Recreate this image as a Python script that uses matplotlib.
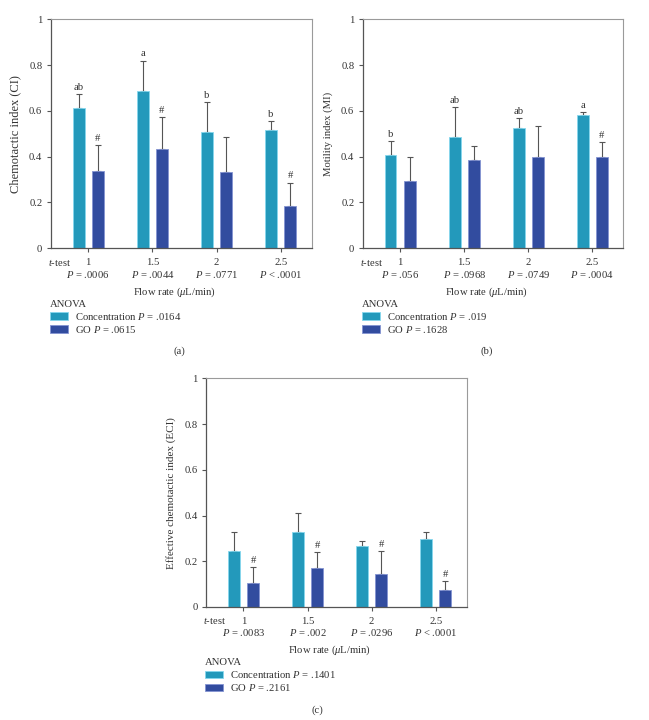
import numpy as np
import matplotlib
matplotlib.use("Agg")
import matplotlib.pyplot as plt
from matplotlib.patches import Patch
from matplotlib.transforms import blended_transform_factory

plt.rcParams['font.family'] = ['Liberation Serif', 'DejaVu Serif']
plt.rcParams['mathtext.fontset'] = 'custom'
plt.rcParams['mathtext.rm'] = 'Liberation Serif'
plt.rcParams['mathtext.it'] = 'Liberation Serif:italic'

flow_rates = ["1", "1.5", "2", "2.5"]

# Panel (a) Chemotactic index
ci_conc = [0.612, 0.689, 0.507, 0.517]
ci_conc_err = [0.061, 0.131, 0.131, 0.038]
ci_go = [0.339, 0.432, 0.332, 0.186]
ci_go_err = [0.112, 0.140, 0.153, 0.101]
ci_conc_marks = ["ab", "a", "b", "b"]
ci_go_marks = ["#", "#", "", "#"]
ci_ttest = ["= .0006", "= .0044", "= .0771", "< .0001"]
ci_anova = [".0164", ".0615"]

# Panel (b) Motility index
mi_conc = [0.406, 0.484, 0.526, 0.580]
mi_conc_err = [0.061, 0.133, 0.041, 0.017]
mi_go = [0.294, 0.384, 0.400, 0.400]
mi_go_err = [0.103, 0.062, 0.133, 0.065]
mi_conc_marks = ["b", "ab", "ab", "a"]
mi_go_marks = ["", "", "", "#"]
mi_ttest = ["= .056", "= .0968", "= .0749", "= .0004"]
mi_anova = [".019", ".1628"]

# Panel (c) Effective chemotactic index
eci_conc = [0.247, 0.330, 0.266, 0.298]
eci_conc_err = [0.081, 0.083, 0.024, 0.031]
eci_go = [0.106, 0.169, 0.144, 0.076]
eci_go_err = [0.069, 0.071, 0.102, 0.038]
eci_conc_marks = ["", "", "", ""]
eci_go_marks = ["#", "#", "#", "#"]
eci_ttest = ["= .0083", "= .002", "= .0296", "< .0001"]
eci_anova = [".1401", ".2161"]

TEAL = '#2399bb'
TEAL_EDGE = '#86d8ee'
BLUE = '#324c9f'
BLUE_EDGE = '#8494d2'
FS = 7.7
TXT = '#333333'

W, H = 649, 720
fig = plt.figure(figsize=(W / 100, H / 100), dpi=100)


def px_axes(left, top, right, bottom):
    return fig.add_axes([left / W, 1 - bottom / H, (right - left) / W, (bottom - top) / H])


def panel(ax, conc, conc_err, go, go_err, cmarks, gmarks, ttest, anova, ylabel, ylfs,
          caption, cap_xy):
    x = np.arange(len(flow_rates))
    off = 0.15
    bw = 0.185
    ax.bar(x - off, conc, bw, color=TEAL, edgecolor=TEAL_EDGE, linewidth=0.6, zorder=2)
    ax.bar(x + off, go, bw, color=BLUE, edgecolor=BLUE_EDGE, linewidth=0.6, zorder=2)
    z = np.zeros(len(x))
    ax.errorbar(x - off, conc, yerr=[z, conc_err], fmt='none', ecolor='#555555',
                elinewidth=0.8, capsize=2, capthick=0.8, zorder=1)
    ax.errorbar(x + off, go, yerr=[z, go_err], fmt='none', ecolor='#555555',
                elinewidth=0.8, capsize=2, capthick=0.8, zorder=1)
    for xi, v, e, m in zip(x - off, conc, conc_err, cmarks):
        if m:
            ax.annotate(m, (xi, v + e), xytext=(0, 1.5), textcoords='offset points',
                        ha='center', va='bottom', fontsize=FS, color=TXT)
    for xi, v, e, m in zip(x + off, go, go_err, gmarks):
        if m:
            ax.annotate(m, (xi, v + e), xytext=(0, 1.5), textcoords='offset points',
                        ha='center', va='bottom', fontsize=FS, color=TXT)
    ax.set_xlim(-0.585, 3.484)
    ax.set_ylim(0, 1)
    ax.set_yticks([0, 0.2, 0.4, 0.6, 0.8, 1])
    ax.set_yticklabels(["0", "0.2", "0.4", "0.6", "0.8", "1"])
    ax.set_xticks(x)
    ax.set_xticklabels(flow_rates)
    ax.tick_params(axis='both', labelsize=FS, labelcolor=TXT, color='#555555',
                   length=3, width=0.8, direction='out')
    ax.tick_params(axis='x', pad=4)
    ax.tick_params(axis='y', pad=3)
    for s in ['left', 'bottom']:
        ax.spines[s].set_color('#555555')
        ax.spines[s].set_linewidth(0.9)
    for s in ['top', 'right']:
        ax.spines[s].set_color('#9a9a9a')
        ax.spines[s].set_linewidth(0.8)
    ax.set_ylabel(ylabel, fontsize=ylfs, color=TXT, labelpad=6)
    trans = blended_transform_factory(ax.transData, ax.transAxes)
    for xi, t in zip(x, ttest):
        ax.text(xi, -0.113, f"$P$ {t}", transform=trans, ha='center', va='center',
                fontsize=FS, color=TXT)
    ax.text(-0.01, -0.06, "$t$-test", transform=ax.transAxes, ha='left', va='center',
            fontsize=FS, color=TXT)
    ax.text(0.474, -0.191, "Flow rate ($\\mu$L/min)", transform=ax.transAxes,
            ha='center', va='center', fontsize=FS, color=TXT)
    handles = [Patch(facecolor=TEAL, edgecolor=TEAL_EDGE, linewidth=0.6),
               Patch(facecolor=BLUE, edgecolor=BLUE_EDGE, linewidth=0.6)]
    labels = [f"Concentration $P$ = {anova[0]}", f"GO $P$ = {anova[1]}"]
    leg = ax.legend(handles, labels, title="ANOVA", loc='upper left',
                    bbox_to_anchor=(-0.004, -0.225), frameon=False, fontsize=FS,
                    title_fontsize=FS, handlelength=1.7, handleheight=0.7,
                    handletextpad=0.65, labelspacing=0.18, borderpad=0,
                    borderaxespad=0, alignment='left')
    for t in leg.get_texts():
        t.set_color(TXT)
    leg.get_title().set_color(TXT)
    fig.text(cap_xy[0] / W, 1 - cap_xy[1] / H, caption, ha='center', va='center',
             fontsize=FS, color=TXT)


ax_a = px_axes(50.7, 19.3, 311.7, 248.3)
panel(ax_a, ci_conc, ci_conc_err, ci_go, ci_go_err, ci_conc_marks, ci_go_marks,
      ci_ttest, ci_anova, "Chemotactic index (CI)", 9.0, "(a)", (179, 351))

ax_b = px_axes(362.7, 19.3, 623.3, 248.3)
panel(ax_b, mi_conc, mi_conc_err, mi_go, mi_go_err, mi_conc_marks, mi_go_marks,
      mi_ttest, mi_anova, "Motility index (MI)", 7.7, "(b)", (487, 351))

ax_c = px_axes(206, 378.3, 466.7, 607)
panel(ax_c, eci_conc, eci_conc_err, eci_go, eci_go_err, eci_conc_marks, eci_go_marks,
      eci_ttest, eci_anova, "Effective chemotactic index (ECI)", 8.0, "(c)", (317, 710))

fig.savefig("out.png", dpi=100)
